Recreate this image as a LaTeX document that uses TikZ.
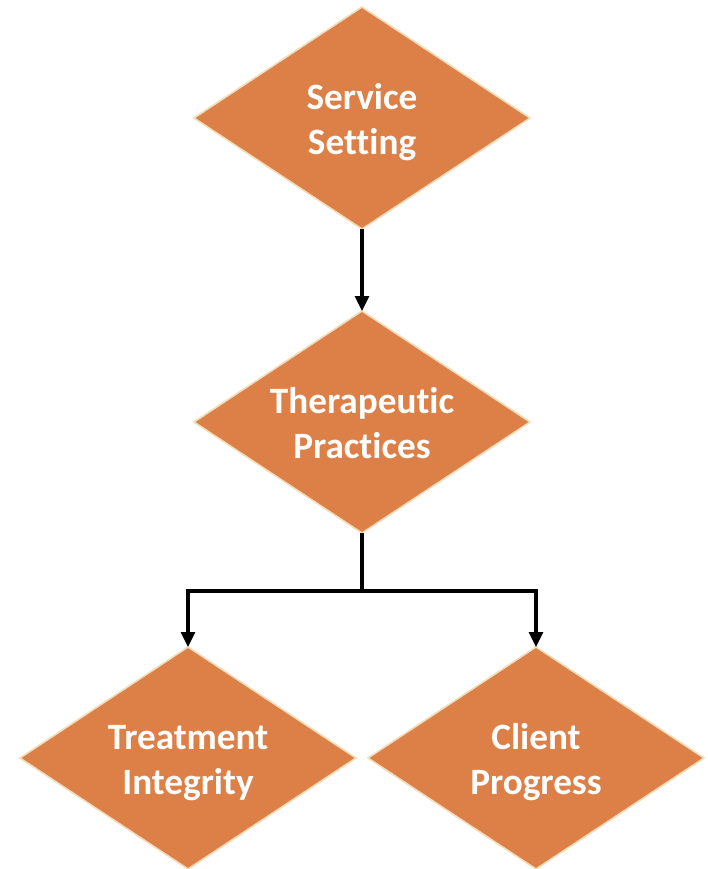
\documentclass[tikz,border=0pt]{standalone}
\usepackage{fontspec}
\setmainfont{Carlito}[Ligatures={NoCommon}]
\usetikzlibrary{positioning,shapes.geometric,arrows.meta}
\definecolor{boxfill}{HTML}{DD8047}
\definecolor{boxline}{HTML}{F2DCB8}
\tikzstyle{choice} = [diamond, aspect=1.514, inner sep=0pt, outer sep=0pt,
  minimum width=168pt, minimum height=111pt, fill=boxfill, draw=boxline,
  line width=0.8pt, text=white, align=center,
  font=\fontsize{18.6}{22.5}\selectfont\bfseries,
  text height=40pt, text depth=4pt]
\tikzstyle{arrow} = [line width=1.6pt, -{Triangle[width=7pt,length=7.5pt]}]

\begin{document}
\begin{tikzpicture}[x=0.5pt, y=-0.5pt]
    \useasboundingbox (0,0) rectangle (708,869);

    \node (setting) [choice] at (362,118) {Service\\Setting};

    \node (practices) [choice, below=41pt of setting] {Therapeutic\\Practices};
    \draw [arrow] (setting) -- (practices);

    \coordinate (split) at ([yshift=-29pt]practices.south);

    \node (integrity) [choice, below=57pt of practices, xshift=-87pt] {Treatment\\Integrity};
    \draw [arrow] (practices) -- (split) -| (integrity);

    \node (progress) [choice, below=57pt of practices, xshift=87pt] {Client\\Progress};
    \draw [arrow] (practices) -- (split) -| (progress);

\end{tikzpicture}
\end{document}
